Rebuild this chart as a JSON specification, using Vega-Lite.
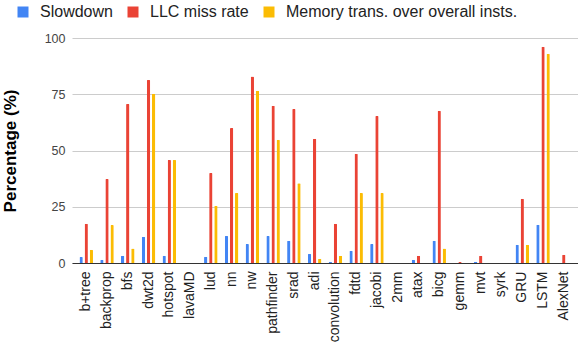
{
  "$schema": "https://vega.github.io/schema/vega-lite/v6.json",
  "width": 506,
  "height": 225,
  "autosize": "none",
  "padding": {"left": 72, "top": 38, "right": 0, "bottom": 80},
  "background": "white",
  "config": {
    "font": "Liberation Sans",
    "view": {"stroke": null}
  },
  "data": {
    "values": [
      {"bench": "b+tree", "metric": "Slowdown", "value": 2.7},
      {"bench": "b+tree", "metric": "LLC miss rate", "value": 17.5},
      {"bench": "b+tree", "metric": "Memory trans. over overall insts.", "value": 5.9},
      {"bench": "backprop", "metric": "Slowdown", "value": 1.5},
      {"bench": "backprop", "metric": "LLC miss rate", "value": 37.3},
      {"bench": "backprop", "metric": "Memory trans. over overall insts.", "value": 16.9},
      {"bench": "bfs", "metric": "Slowdown", "value": 3.2},
      {"bench": "bfs", "metric": "LLC miss rate", "value": 70.7},
      {"bench": "bfs", "metric": "Memory trans. over overall insts.", "value": 6.4},
      {"bench": "dwt2d", "metric": "Slowdown", "value": 11.7},
      {"bench": "dwt2d", "metric": "LLC miss rate", "value": 81.3},
      {"bench": "dwt2d", "metric": "Memory trans. over overall insts.", "value": 75.2},
      {"bench": "hotspot", "metric": "Slowdown", "value": 3.2},
      {"bench": "hotspot", "metric": "LLC miss rate", "value": 45.8},
      {"bench": "hotspot", "metric": "Memory trans. over overall insts.", "value": 45.8},
      {"bench": "lavaMD", "metric": "Slowdown", "value": 0},
      {"bench": "lavaMD", "metric": "LLC miss rate", "value": 0},
      {"bench": "lavaMD", "metric": "Memory trans. over overall insts.", "value": 0},
      {"bench": "lud", "metric": "Slowdown", "value": 2.8},
      {"bench": "lud", "metric": "LLC miss rate", "value": 40.0},
      {"bench": "lud", "metric": "Memory trans. over overall insts.", "value": 25.5},
      {"bench": "nn", "metric": "Slowdown", "value": 12.0},
      {"bench": "nn", "metric": "LLC miss rate", "value": 60.0},
      {"bench": "nn", "metric": "Memory trans. over overall insts.", "value": 31.1},
      {"bench": "nw", "metric": "Slowdown", "value": 8.4},
      {"bench": "nw", "metric": "LLC miss rate", "value": 82.9},
      {"bench": "nw", "metric": "Memory trans. over overall insts.", "value": 76.6},
      {"bench": "pathfinder", "metric": "Slowdown", "value": 12.0},
      {"bench": "pathfinder", "metric": "LLC miss rate", "value": 69.9},
      {"bench": "pathfinder", "metric": "Memory trans. over overall insts.", "value": 54.8},
      {"bench": "srad", "metric": "Slowdown", "value": 9.9},
      {"bench": "srad", "metric": "LLC miss rate", "value": 68.4},
      {"bench": "srad", "metric": "Memory trans. over overall insts.", "value": 35.5},
      {"bench": "adi", "metric": "Slowdown", "value": 4.0},
      {"bench": "adi", "metric": "LLC miss rate", "value": 55.2},
      {"bench": "adi", "metric": "Memory trans. over overall insts.", "value": 1.9},
      {"bench": "convolution", "metric": "Slowdown", "value": 0.6},
      {"bench": "convolution", "metric": "LLC miss rate", "value": 17.5},
      {"bench": "convolution", "metric": "Memory trans. over overall insts.", "value": 3.2},
      {"bench": "fdtd", "metric": "Slowdown", "value": 5.5},
      {"bench": "fdtd", "metric": "LLC miss rate", "value": 48.6},
      {"bench": "fdtd", "metric": "Memory trans. over overall insts.", "value": 31.1},
      {"bench": "jacobi", "metric": "Slowdown", "value": 8.4},
      {"bench": "jacobi", "metric": "LLC miss rate", "value": 65.3},
      {"bench": "jacobi", "metric": "Memory trans. over overall insts.", "value": 31.1},
      {"bench": "2mm", "metric": "Slowdown", "value": 0},
      {"bench": "2mm", "metric": "LLC miss rate", "value": 0},
      {"bench": "2mm", "metric": "Memory trans. over overall insts.", "value": 0},
      {"bench": "atax", "metric": "Slowdown", "value": 1.5},
      {"bench": "atax", "metric": "LLC miss rate", "value": 3.2},
      {"bench": "atax", "metric": "Memory trans. over overall insts.", "value": 0},
      {"bench": "bicg", "metric": "Slowdown", "value": 9.9},
      {"bench": "bicg", "metric": "LLC miss rate", "value": 67.7},
      {"bench": "bicg", "metric": "Memory trans. over overall insts.", "value": 6.4},
      {"bench": "gemm", "metric": "Slowdown", "value": 0},
      {"bench": "gemm", "metric": "LLC miss rate", "value": 0.4},
      {"bench": "gemm", "metric": "Memory trans. over overall insts.", "value": 0},
      {"bench": "mvt", "metric": "Slowdown", "value": 0.6},
      {"bench": "mvt", "metric": "LLC miss rate", "value": 3.2},
      {"bench": "mvt", "metric": "Memory trans. over overall insts.", "value": 0},
      {"bench": "syrk", "metric": "Slowdown", "value": 0},
      {"bench": "syrk", "metric": "LLC miss rate", "value": 0},
      {"bench": "syrk", "metric": "Memory trans. over overall insts.", "value": 0},
      {"bench": "GRU", "metric": "Slowdown", "value": 8.1},
      {"bench": "GRU", "metric": "LLC miss rate", "value": 28.6},
      {"bench": "GRU", "metric": "Memory trans. over overall insts.", "value": 8.1},
      {"bench": "LSTM", "metric": "Slowdown", "value": 17.0},
      {"bench": "LSTM", "metric": "LLC miss rate", "value": 96.1},
      {"bench": "LSTM", "metric": "Memory trans. over overall insts.", "value": 93.0},
      {"bench": "AlexNet", "metric": "Slowdown", "value": 0},
      {"bench": "AlexNet", "metric": "LLC miss rate", "value": 3.7},
      {"bench": "AlexNet", "metric": "Memory trans. over overall insts.", "value": 0}
    ]
  },
  "mark": {"type": "bar", "cornerRadiusTopLeft": 1, "cornerRadiusTopRight": 1},
  "encoding": {
    "x": {
      "field": "bench",
      "type": "nominal",
      "sort": null,
      "scale": {"paddingInner": 0.25, "paddingOuter": 0.31},
      "axis": {
        "title": null,
        "labelAngle": -90,
        "labelFontSize": 14,
        "labelColor": "#222222",
        "labelPadding": 8,
        "ticks": false,
        "domainColor": "#333333",
        "domainWidth": 1.2,
        "grid": false
      }
    },
    "xOffset": {
      "field": "metric",
      "type": "nominal",
      "sort": ["Slowdown", "LLC miss rate", "Memory trans. over overall insts."],
      "scale": {"paddingInner": 0.35, "paddingOuter": 0.2}
    },
    "y": {
      "field": "value",
      "type": "quantitative",
      "scale": {"domain": [0, 100], "nice": false},
      "axis": {
        "title": "Percentage (%)",
        "titleFontSize": 17,
        "titleFontWeight": "bold",
        "titleColor": "#000000",
        "titlePadding": 25,
        "values": [0, 25, 50, 75, 100],
        "labelFontSize": 12.5,
        "labelColor": "#444444",
        "labelPadding": 7,
        "ticks": false,
        "domain": false,
        "gridColor": "#cccccc",
        "gridWidth": 1
      }
    },
    "color": {
      "field": "metric",
      "type": "nominal",
      "sort": ["Slowdown", "LLC miss rate", "Memory trans. over overall insts."],
      "scale": {
        "domain": ["Slowdown", "LLC miss rate", "Memory trans. over overall insts."],
        "range": ["#4285F4", "#EA4335", "#FBBC04"]
      },
      "legend": {
        "title": null,
        "orient": "none",
        "direction": "horizontal",
        "legendX": -57,
        "legendY": -34,
        "symbolType": "square",
        "symbolSize": 121,
        "symbolStrokeWidth": 0,
        "labelFontSize": 16,
        "labelLimit": 0,
        "labelColor": "#222222",
        "labelOffset": 9,
        "columnPadding": 12
      }
    }
  }
}
